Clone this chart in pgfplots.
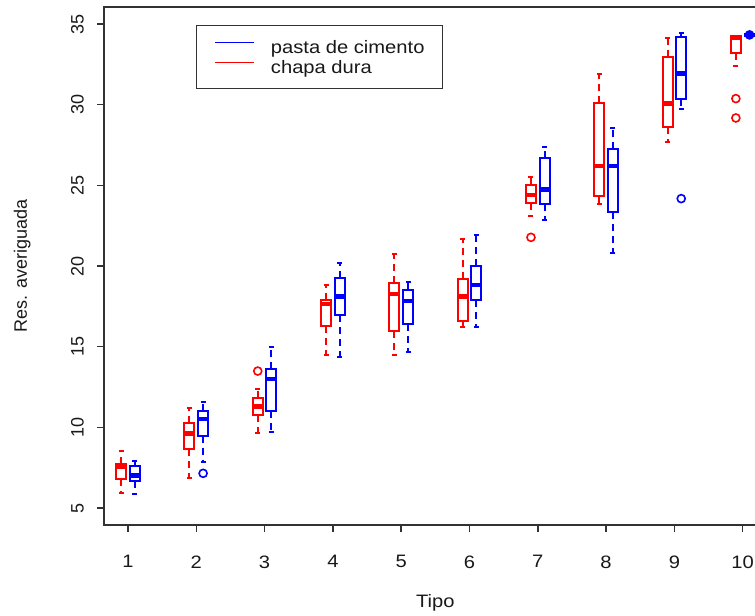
\documentclass[border=0pt]{standalone}
\usepackage{fontspec}
\setmainfont[FakeStretch=1.12]{Liberation Sans}
\newfontfamily\rotfont{Liberation Sans}
\usepackage{pgfplots}
\pgfplotsset{compat=1.18}
\usepgfplotslibrary{statistics}
\definecolor{rred}{RGB}{255,0,0}
\definecolor{rblue}{RGB}{0,0,255}
\definecolor{axgray}{RGB}{50,50,50}
\newcommand{\fs}{\fontsize{13.5pt}{16pt}\selectfont}
% lw, lq, med, uq, uw
\newcommand{\bp}[7]{\addplot[#1, boxplot prepared={draw position=#2, lower whisker=#3, lower quartile=#4, median=#5, upper quartile=#6, upper whisker=#7}] coordinates {};}
\newcommand{\bpo}[8]{\addplot[#1, boxplot prepared={draw position=#2, lower whisker=#3, lower quartile=#4, median=#5, upper quartile=#6, upper whisker=#7}, mark=o, mark size=3pt, mark options={solid, line width=1.2pt}] table[row sep=\\, y index=0] {data\\ #8};}
\begin{document}
\fs
\begin{tikzpicture}
\begin{axis}[
  scale only axis,
  width=488pt, height=388.1pt,
  xmin=0.653, xmax=10.18,
  ymin=3.977, ymax=36.06,
  axis line style={draw=none},
  xtick={1,...,10}, ytick={5,10,...,35},
  tick align=outside, tick pos=left,
  major tick length=5.6pt,
  tick style={axgray, line width=1.1pt},
  /pgf/number format/assume math mode=true,
  ticklabel style={font=\fs, text=black!90},
  xticklabel shift=13pt,
  yticklabel shift=5pt,
  yticklabel style={rotate=90, anchor=south, font=\rotfont\fs},
  xlabel={Tipo}, ylabel={Res. averiguada},
  every axis x label/.style={at={(axis description cs:0.5088,-0.1517)}, anchor=center, font=\fs, text=black!90},
  every axis y label/.style={at={(axis description cs:-0.126,0.5)}, rotate=90, anchor=center, font=\rotfont\fs, text=black!90},
  clip=false,
  legend style={at={(axis description cs:0.1409,0.9652)}, anchor=north west, draw=axgray, line width=1pt, font=\fs, text=black!90,
    inner xsep=13.5pt, inner ysep=10.5pt, row sep=4.65pt,
    nodes={inner xsep=0pt, inner ysep=0pt, text height=10pt, text depth=0.8pt, anchor=west},
    /tikz/every odd column/.append style={column sep=12pt}},
  legend cell align=left,
  boxplot/draw direction=y,
  boxplot/box extend=0.146,
  boxplot/whisker extend=0.073,
  boxplot/every box/.style={line width=1.5pt},
  boxplot/every whisker/.style={line width=1.5pt, dash pattern=on 5.25pt off 3.75pt},
  boxplot/every median/.style={line width=3.5pt},
]
\addlegendimage{legend image code/.code={\draw[rblue, line width=1pt] (0pt,3.5pt) -- (29.25pt,3.5pt);}}
\addlegendentry{pasta de cimento}
\addlegendimage{legend image code/.code={\draw[rred, line width=1pt] (0pt,3.5pt) -- (29.25pt,3.5pt);}}
\addlegendentry{chapa dura}
% group 1
\bp{rred}{0.9}{5.95}{6.78}{7.56}{7.73}{8.55}
\bp{rblue}{1.1}{5.85}{6.69}{7.00}{7.62}{7.91}
% group 2
\bp{rred}{1.9}{6.88}{8.64}{9.63}{10.25}{11.22}
\bpo{rblue}{2.1}{7.87}{9.48}{10.52}{11.03}{11.59}{7.15\\}
% group 3
\bpo{rred}{2.9}{9.63}{10.77}{11.28}{11.80}{12.38}{13.49\\}
\bp{rblue}{3.1}{9.69}{11.01}{13.00}{13.62}{14.98}
% group 4
\bp{rred}{3.9}{14.47}{16.30}{17.65}{17.90}{18.82}
\bp{rblue}{4.1}{14.38}{16.97}{18.10}{19.28}{20.21}
% group 5
\bp{rred}{4.9}{14.47}{15.95}{18.27}{18.93}{20.75}
\bp{rblue}{5.1}{14.65}{16.41}{17.83}{18.51}{18.99}
% group 6
\bp{rred}{5.9}{16.24}{16.61}{18.10}{19.20}{21.66}
\bp{rblue}{6.1}{16.24}{17.90}{18.82}{20.02}{21.94}
% group 7
\bpo{rred}{6.9}{23.12}{23.89}{24.40}{25.00}{25.54}{21.78\\}
\bp{rblue}{7.1}{22.85}{23.83}{24.76}{26.68}{27.36}
% group 8
\bp{rred}{7.9}{23.85}{24.36}{26.20}{30.09}{31.90}
\bp{rblue}{8.1}{20.79}{23.33}{26.20}{27.24}{28.58}
% group 9
\bp{rred}{8.9}{27.71}{28.60}{30.09}{32.94}{34.16}
\bpo{rblue}{9.1}{29.76}{30.38}{31.95}{34.18}{34.47}{24.18\\}
% group 10
\bpo{rred}{9.9}{32.40}{33.19}{34.17}{34.26}{34.26}{30.38\\ 29.18\\}
\bpo{rblue}{10.1}{34.22}{34.26}{34.33}{34.40}{34.44}{34.33\\}
% axis frame (left, bottom, top; right side is cut off)
\draw[axgray, line width=1.5pt, line cap=rect] (rel axis cs:1,0) -- (rel axis cs:0,0) -- (rel axis cs:0,1) -- (rel axis cs:1,1);
\coordinate (SW) at (rel axis cs:0,0);
\coordinate (NE) at (rel axis cs:1,1);
\end{axis}
\pgfresetboundingbox
\path[use as bounding box] ([shift={(-78.2pt,-68.6pt)}]SW) rectangle ([shift={(0pt,5.25pt)}]NE);
\end{tikzpicture}
\end{document}
